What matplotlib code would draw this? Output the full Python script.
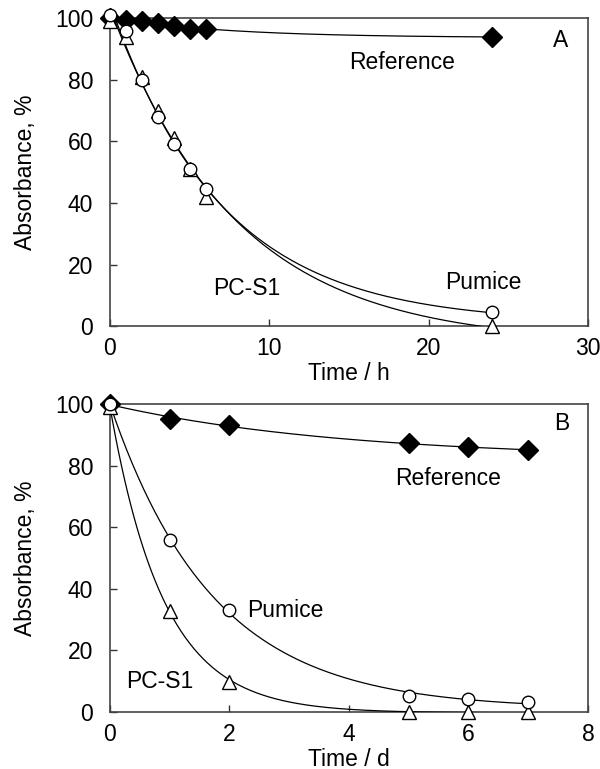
import numpy as np
import matplotlib
matplotlib.use("Agg")
import matplotlib.pyplot as plt

'''
Absorbance decay, panel A (hours) and panel B (days)
'''
plt.rcParams['font.family'] = ['Liberation Sans', 'DejaVu Sans']

# Panel A data (time in h)
time_a = [0, 1, 2, 3, 4, 5, 6, 24]
reference_a = [100, 99.5, 99, 98.5, 97.5, 96.5, 96.5, 94]
pumice_a = [101, 96, 80, 68, 59, 51, 44.5, 4.6]
pcs1_a = [99, 94, 81, 70, 61, 51, 42, 0]

# Panel B data (time in d)
time_b = [0, 1, 2, 5, 6, 7]
reference_b = [100, 95.3, 93.1, 87.2, 86.1, 85]
pumice_b = [100, 55.8, 33, 5.2, 4.2, 3.3]
pcs1_b = [99, 32.9, 9.8, 0, 0, 0]

fs = 16.5


def fit_decay(t, y, t_end):
    # y = a*exp(-k t) + c, grid over k with linear least squares for a, c
    t = np.asarray(t, float)
    y = np.asarray(y, float)
    best = None
    for k in np.logspace(-3, 1.5, 2000):
        m = np.column_stack([np.exp(-k * t), np.ones_like(t)])
        coef, res, _, _ = np.linalg.lstsq(m, y, rcond=None)
        err = np.sum((m @ coef - y) ** 2)
        if best is None or err < best[0]:
            best = (err, k, coef)
    _, k, (a, c) = best
    tt = np.linspace(0, t_end, 300)
    return tt, a * np.exp(-k * tt) + c


def style_axes(ax, xlim, xticks, xlabel):
    ax.set_xlim(*xlim)
    ax.set_ylim(0, 100)
    ax.set_xticks(xticks)
    ax.set_yticks([0, 20, 40, 60, 80, 100])
    ax.tick_params(direction="in", length=5, width=1, labelsize=fs,
                   top=False, right=False, color="#333333")
    ax.tick_params(axis="y", pad=12)
    ax.tick_params(axis="x", pad=8)
    for s in ax.spines.values():
        s.set_color("#444444")
        s.set_linewidth(1.2)
    ax.set_xlabel(xlabel, fontsize=fs, labelpad=1)
    ax.set_ylabel("Absorbance, %", fontsize=fs, labelpad=13)


fig = plt.figure(figsize=(6, 7.69), dpi=100)
ax_a = fig.add_axes([0.1833, 0.576, 0.7967, 0.4002])
ax_b = fig.add_axes([0.1833, 0.0741, 0.7967, 0.4005])

mk = dict(color="black", linestyle="none", clip_on=False, zorder=5)

# Panel A
for y, end in [(reference_a, 24), (pumice_a, 24), (pcs1_a, 24)]:
    tt, yy = fit_decay(time_a, y, end)
    ax_a.plot(tt, yy, color="black", linewidth=0.9, zorder=3)
ax_a.plot(time_a, reference_a, marker="D", markersize=10, markerfacecolor="black", **mk)
ax_a.plot(time_a, pcs1_a, marker="^", markersize=10, markerfacecolor="white",
          markeredgewidth=1.0, **mk)
ax_a.plot(time_a, pumice_a, marker="o", markersize=9, markerfacecolor="white",
          markeredgewidth=1.0, **mk)
ax_a.text(28.3, 92.9, "A", fontsize=fs, ha="center", va="center")
ax_a.text(18.3, 85.8, "Reference", fontsize=fs, ha="center", va="center")
ax_a.text(8.6, 12.3, "PC-S1", fontsize=fs, ha="center", va="center")
ax_a.text(23.4, 14.0, "Pumice", fontsize=fs, ha="center", va="center")
style_axes(ax_a, (0, 30), [0, 10, 20, 30], "Time / h")

# Panel B
for y, end in [(reference_b, 7), (pumice_b, 7), (pcs1_b, 7.4)]:
    tt, yy = fit_decay(time_b, y, end)
    ax_b.plot(tt, yy, color="black", linewidth=0.9, zorder=3)
ax_b.plot(time_b, reference_b, marker="D", markersize=10, markerfacecolor="black", **mk)
ax_b.plot(time_b, pcs1_b, marker="^", markersize=10, markerfacecolor="white",
          markeredgewidth=1.0, **mk)
ax_b.plot(time_b, pumice_b, marker="o", markersize=9, markerfacecolor="white",
          markeredgewidth=1.0, **mk)
ax_b.text(7.56, 93.6, "B", fontsize=fs, ha="center", va="center")
ax_b.text(5.66, 75.8, "Reference", fontsize=fs, ha="center", va="center")
ax_b.text(2.3, 33, "Pumice", fontsize=fs, ha="left", va="center")
ax_b.text(0.84, 9.8, "PC-S1", fontsize=fs, ha="center", va="center")
style_axes(ax_b, (0, 8), [0, 2, 4, 6, 8], "Time / d")

fig.savefig("out.png", dpi=100)
